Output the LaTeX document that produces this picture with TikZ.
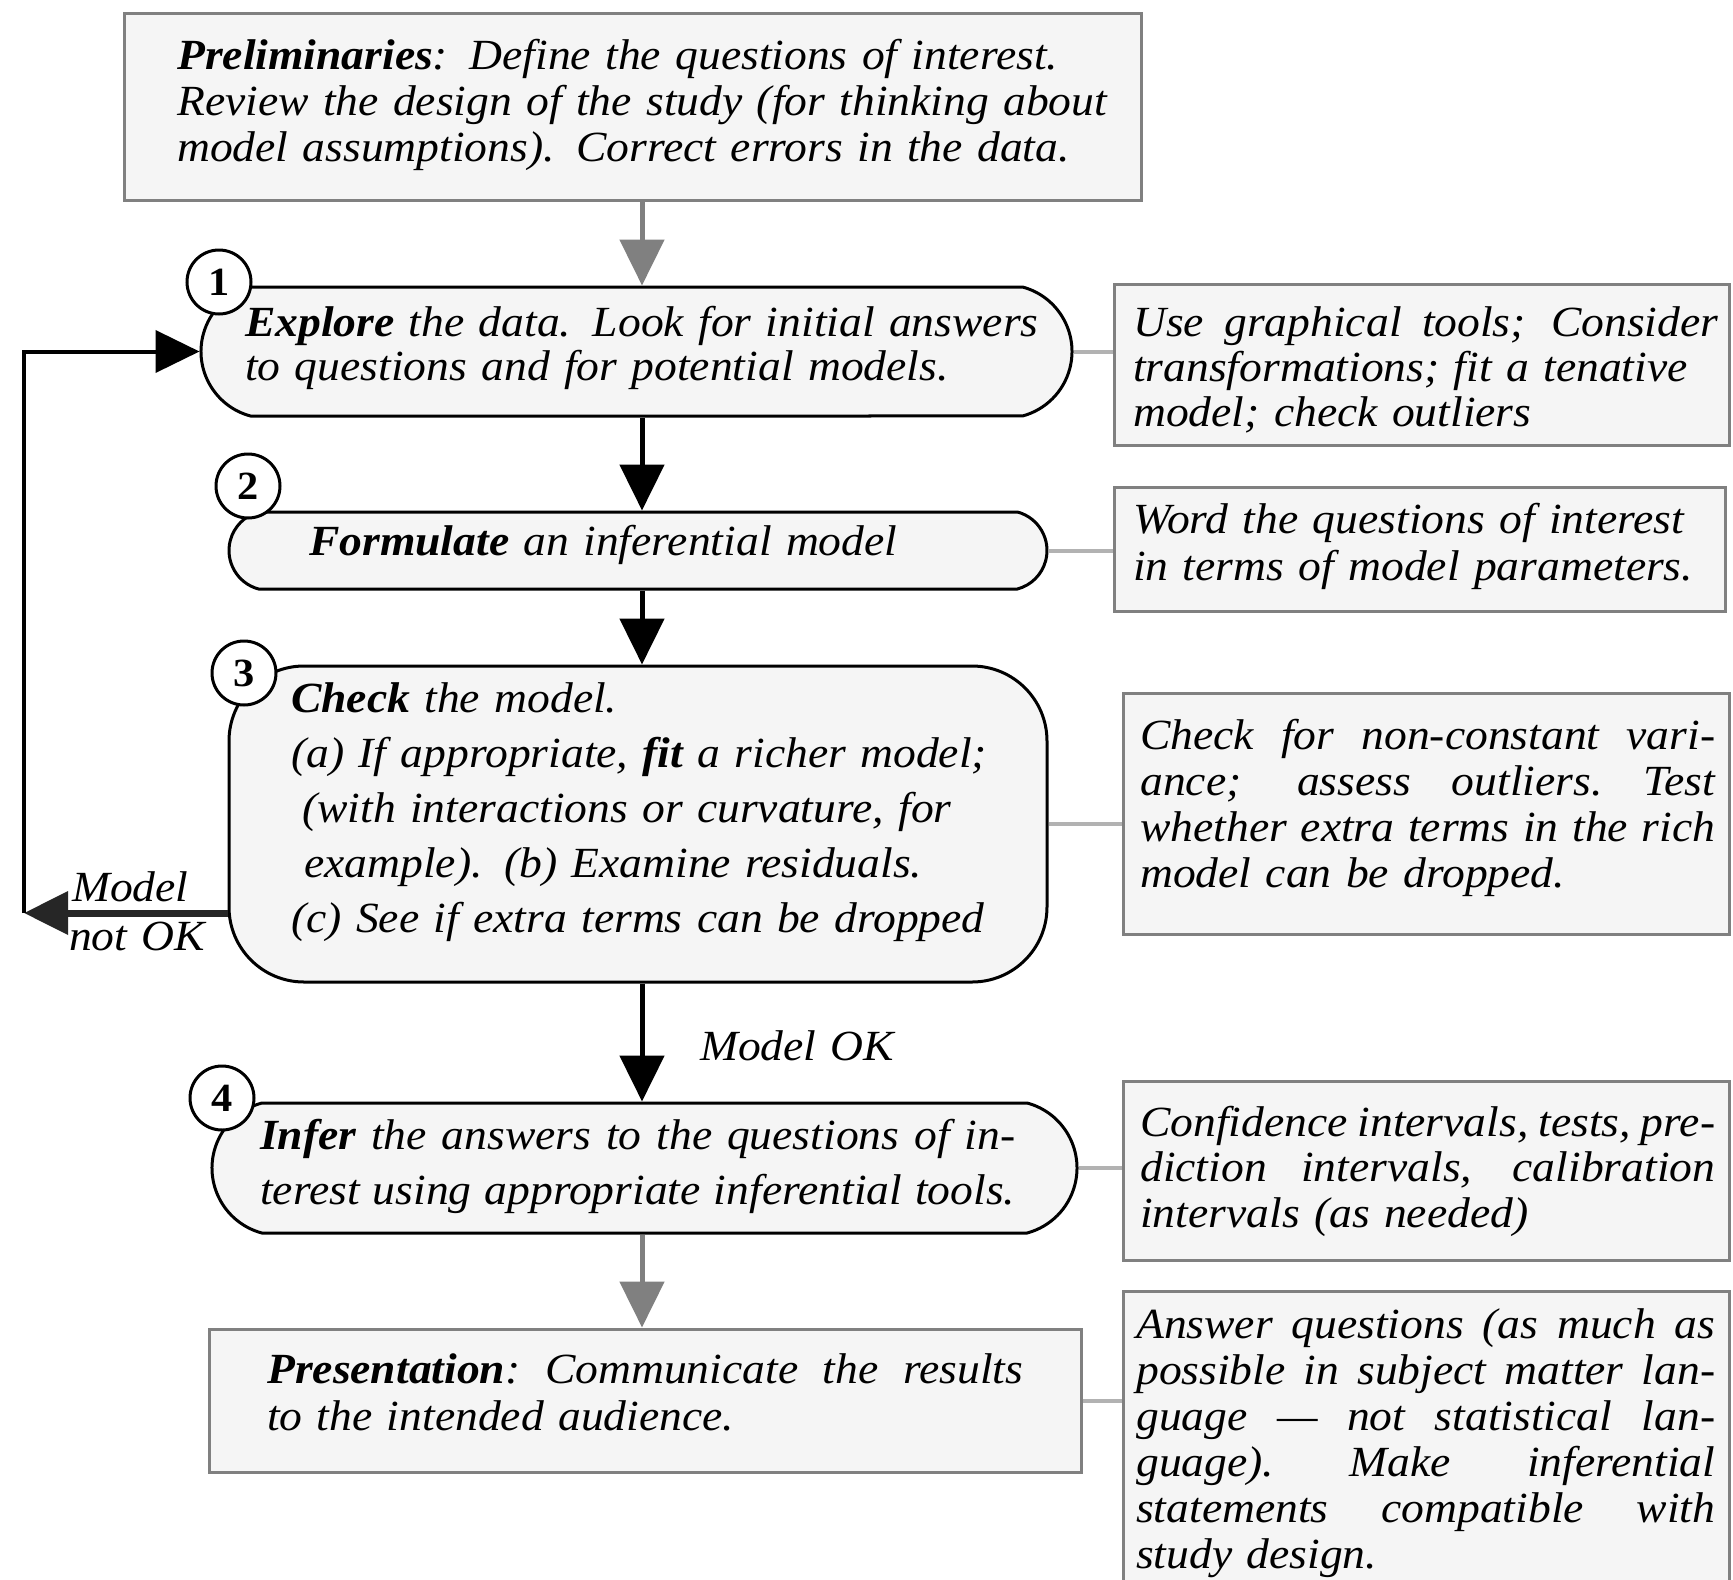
\documentclass[tikz,border=0pt]{standalone}
\usepackage{fontspec}
\setmainfont{Liberation Serif}[FakeStretch=1.06]
\usetikzlibrary{arrows.meta,shapes.misc}
\setlength{\parindent}{0pt}
\newcommand{\myjust}[1]{{\spaceskip=0.25em plus 1fil minus 0.1em\relax\xspaceskip=\spaceskip\makebox[\hsize][s]{#1}}}
\begin{document}
\begin{tikzpicture}[x=1pt,y=-1pt,
  grbox/.style={rectangle, draw=black!50, line width=3pt, fill=black!4, inner sep=0pt},
  stad/.style={rounded rectangle, rounded rectangle arc length=150, draw=black, line width=3pt, fill=black!4, inner sep=0pt},
  chkbox/.style={rectangle, rounded corners=75pt, draw=black, line width=3pt, fill=black!4, inner sep=0pt},
  num/.style={circle, draw=black, line width=3pt, fill=white, minimum size=64pt, inner sep=0pt, font=\fontsize{40}{40}\selectfont\bfseries},
  txt/.style={anchor=base west, inner sep=0pt, align=left, text width=1000pt, font=\fontsize{43}{46}\selectfont\itshape},
  flow/.style={line width=5pt, -{Triangle[width=44pt,length=46pt]}},
  gflow/.style={flow, draw=black!50, fill=black!50},
  side/.style={draw=black!30, line width=4pt},
  loopa/.style={line width=7pt, draw=black!85, -{Triangle[width=42pt,length=44pt]}},
  loopb/.style={line width=4pt, draw=black, -{Triangle[width=42pt,length=44pt]}}
]
\useasboundingbox (0,0) rectangle (1733,1580);
\fill[white] (0,0) rectangle (1733,1580);
\clip (0,0) rectangle (1733,1580);

% main boxes
\node[grbox, minimum width=1017pt, minimum height=187pt] (prelim) at (632.5,106.5) {};
\node[stad, minimum width=871pt, minimum height=129pt] (explore) at (636.5,351.5) {};
\node[stad, minimum width=818pt, minimum height=77pt] (formulate) at (638,550.5) {};
\node[chkbox, minimum width=818pt, minimum height=316pt] (check) at (638,824) {};
\node[stad, minimum width=865pt, minimum height=130pt] (infer) at (644.5,1168) {};
\node[grbox, minimum width=872pt, minimum height=143pt] (pres) at (645,1400.5) {};

% side boxes
\node[grbox, minimum width=615pt, minimum height=161pt] (sA) at (1421.5,364.5) {};
\node[grbox, minimum width=611pt, minimum height=124pt] (sB) at (1419.5,549) {};
\node[grbox, minimum width=606pt, minimum height=241pt] (sC) at (1426,813.5) {};
\node[grbox, minimum width=606pt, minimum height=179pt] (sD) at (1426,1170.5) {};
\node[grbox, minimum width=606pt, minimum height=318pt] (sE) at (1426,1450) {};

% side connectors
\draw[side] (explore.east) -- (explore.east -| sA.west);
\draw[side] (formulate.east) -- (formulate.east -| sB.west);
\draw[side] (check.east) -- (check.east -| sC.west);
\draw[side] (infer.east) -- (infer.east -| sD.west);
\draw[side] (pres.east) -- (pres.east -| sE.west);

% flow arrows
\coordinate (col) at (642,0);
\draw[gflow] (prelim.south -| col) -- (explore.north -| col);
\draw[flow] (explore.south -| col) -- (formulate.north -| col);
\draw[flow] (formulate.south -| col) -- (check.north -| col);
\draw[flow] (check.south -| col) -- (infer.north -| col);
\draw[gflow] (infer.south -| col) -- (pres.north -| col);

% loop back
\coordinate (lc) at (24,913);
\draw[loopa] ([yshift=-89pt]check.west) -- (lc);
\draw[loopb] (lc) |- (explore.west);

% texts
\node[txt] (tprelim) at (177,69) {\textbf{Preliminaries}: Define the questions of interest.\\
Review the design of the study (for thinking about\\
model assumptions). Correct errors in the data.};
\node[txt, font=\fontsize{43}{44}\selectfont\itshape] (texplore) at (245,336) {\textbf{Explore} the data. Look for initial answers\\
to questions and for potential models.};
\node[txt] (tformulate) at (309,555) {\textbf{Formulate} an inferential model};
\node[txt, font=\fontsize{43}{55}\selectfont\itshape] (tcheck) at (291,712) {\textbf{Check} the model.\\
(a) If appropriate, \textbf{fit} a richer model;\\
\hspace*{11pt}(with interactions or curvature, for\\
\hspace*{13pt}example). (b) Examine residuals.\\
(c) See if extra terms can be dropped};
\node[txt, text width=755pt, font=\fontsize{43}{55}\selectfont\itshape] (tinfer) at (260,1149) {\myjust{\textbf{Infer} the answers to the questions of in-}\\
\myjust{terest using appropriate inferential tools.}};
\node[txt, text width=756pt, font=\fontsize{43}{47}\selectfont\itshape] (tpres) at (267,1383) {\myjust{\textbf{Presentation}: Communicate the results}\\
to the intended audience.};

\node[txt, text width=585pt, font=\fontsize{43}{45}\selectfont\itshape] (tA) at (1133,336) {\myjust{Use graphical tools; Consider}\\
transformations; fit a tenative\\
model; check outliers};
\node[txt, font=\fontsize{43}{47}\selectfont\itshape] (tB) at (1133,533) {Word the questions of interest\\
in terms of model parameters.};
\node[txt, text width=575pt] (tC) at (1140,749) {\myjust{Check for non-constant vari-}\\
\myjust{ance; assess outliers. Test}\\
\myjust{whether extra terms in the rich}\\
model can be dropped.};
\node[txt, text width=575pt, font=\fontsize{43}{45.5}\selectfont\itshape] (tD) at (1140,1136) {\myjust{Confidence intervals, tests, pre-}\\
\myjust{diction intervals, calibration}\\
intervals (as needed)};
\node[txt, text width=579pt] (tE) at (1136,1338) {\myjust{Answer questions (as much as}\\
\myjust{possible in subject matter lan-}\\
\myjust{guage — not statistical lan-}\\
\myjust{guage). Make inferential}\\
\myjust{statements compatible with}\\
study design.};

% labels
\node[txt] (lmodel) at (72,901) {Model};
\node[txt] (lnotok) at (69,950) {not OK};
\node[txt] (lok) at (700,1060) {Model OK};

% step numbers
\node[num] (n1) at (219,282) {1};
\node[num] (n2) at (248,486) {2};
\node[num] (n3) at (244,673) {3};
\node[num] (n4) at (222,1098) {4};
\end{tikzpicture}
\end{document}
